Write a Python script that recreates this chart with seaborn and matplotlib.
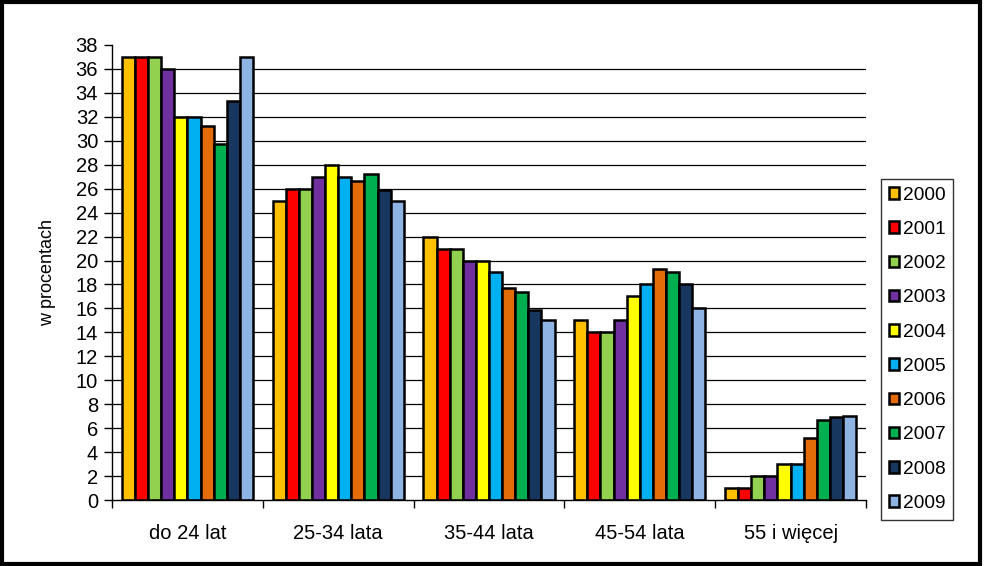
import numpy as np
import pandas as pd
import matplotlib.pyplot as plt
import seaborn as sb
from matplotlib.patches import Rectangle

# data
groups = ['do 24 lat', '25-34 lata', '35-44 lata', '45-54 lata', '55 i więcej']
years = ['2000', '2001', '2002', '2003', '2004', '2005', '2006', '2007', '2008', '2009']
v_do24 = [37, 37, 37, 36, 32, 32, 31.2, 29.7, 33.3, 37]
v_25_34 = [25, 26, 26, 27, 28, 27, 26.6, 27.2, 25.9, 25]
v_35_44 = [22, 21, 21, 20, 20, 19, 17.7, 17.4, 15.9, 15]
v_45_54 = [15, 14, 14, 15, 17, 18, 19.3, 19, 18, 16]
v_55 = [1, 1, 2, 2, 3, 3, 5.2, 6.7, 6.9, 7]
colors = ['#FFC000', '#FF0000', '#92D050', '#7030A0', '#FFFF00',
          '#00B0F0', '#E36C09', '#00B050', '#17375E', '#8EB4E3']

rows = []
for g, vals in zip(groups, [v_do24, v_25_34, v_35_44, v_45_54, v_55]):
    for y, v in zip(years, vals):
        rows.append({'grupa': g, 'rok': y, 'wartosc': v})
df = pd.DataFrame(rows)

plt.rcParams['font.family'] = ['Liberation Sans', 'DejaVu Sans']

fig = plt.figure(figsize=(9.84, 5.66), dpi=100)
ax = fig.add_axes([112 / 984, 66 / 566, 754 / 984, 455 / 566])

# grid lines behind bars
ax.set_axisbelow(True)
for t in range(2, 38, 2):
    ax.axhline(t, color='black', linewidth=0.9, zorder=0)

sb.barplot(data=df, x='grupa', y='wartosc', hue='rok', palette=colors, saturation=1,
           width=0.87, edgecolor='black', linewidth=1.8, ax=ax, zorder=2)

ax.set_ylim(0, 38)
ax.set_xlim(-0.5, 4.5)
ax.set_yticks(range(0, 39, 2))
ax.set_xticks(range(5))
ax.set_xticklabels(groups)
ax.set_xticks(np.arange(-0.5, 5, 1), minor=True)
ax.tick_params(axis='x', which='major', length=0, pad=17, labelsize=14.5)
ax.tick_params(axis='x', which='minor', length=6, width=1, color='black')
ax.tick_params(axis='y', length=6, width=1, labelsize=14.5, pad=4)
ax.set_xlabel('')
ax.set_ylabel('w procentach', fontsize=13, labelpad=14)
for s in ['top', 'right']:
    ax.spines[s].set_visible(False)
for s in ['left', 'bottom']:
    ax.spines[s].set_color('black')
    ax.spines[s].set_linewidth(1)

handles, labels = ax.get_legend_handles_labels()
ax.legend(handles, labels, loc='upper left',
          bbox_to_anchor=(881 / 984, 1 - 179 / 566), bbox_transform=fig.transFigure,
          borderaxespad=0, frameon=True, fancybox=False, edgecolor='black',
          fontsize=13.8, handlelength=0.55, handleheight=0.55, handletextpad=0.2,
          labelspacing=0.9, borderpad=0.4, title=None)
ax.get_legend().get_frame().set_linewidth(1)

# black frame around the whole picture
fig.patches.append(Rectangle((0.002, 0.004), 0.994, 0.992, transform=fig.transFigure,
                             fill=False, edgecolor='black', linewidth=3))

fig.savefig('out.png', dpi=100)
